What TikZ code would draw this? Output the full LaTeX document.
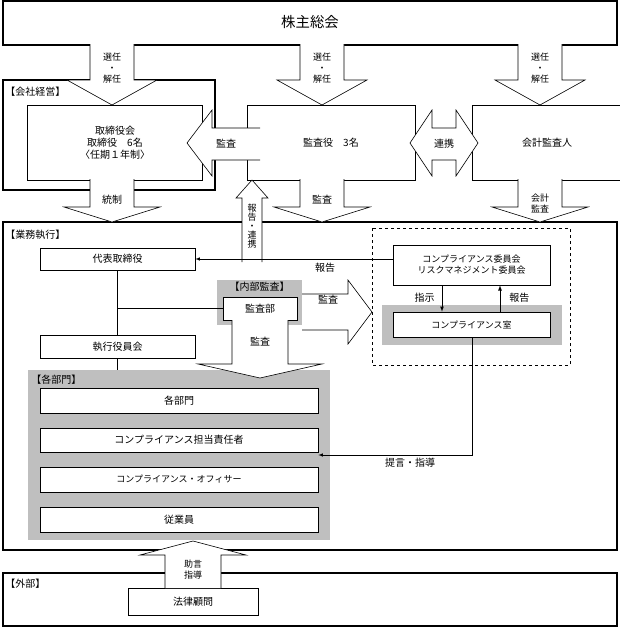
\documentclass[tikz,border=0pt]{standalone}
\usepackage{fontspec}
\setmainfont{Noto Sans CJK JP}
\usepackage{tikz}
\usetikzlibrary{positioning}

\tikzset{
  box/.style={draw, fill=white, inner sep=0pt, font=\normalsize},
  frame/.style={draw, line width=1.3pt},
  grayarea/.style={fill=black!25},
  lbl/.style={font=\normalsize, inner sep=1pt},
  barrow/.style={fill=white, draw}
}
% block arrow pointing down: centre x, top y, tip y, half shaft, half head, head length
\newcommand\darrow[6]{\path[barrow] (#1-#4,#2) -- (#1-#4,#3-#6) -- (#1-#5,#3-#6) -- (#1,#3) -- (#1+#5,#3-#6) -- (#1+#4,#3-#6) -- (#1+#4,#2);}
% block arrow pointing up: centre x, bottom y, tip y, half shaft, half head, head length
\newcommand\uarrow[6]{\path[barrow] (#1-#4,#2) -- (#1-#4,#3+#6) -- (#1-#5,#3+#6) -- (#1,#3) -- (#1+#5,#3+#6) -- (#1+#4,#3+#6) -- (#1+#4,#2);}

\begin{document}
\begin{tikzpicture}[x=1pt,y=-1pt,line width=0.6pt]
\useasboundingbox (0,0) rectangle (619,627);

% frames
\draw[frame] (3,1) rectangle (617,45);
\node[font=\Large] (agm) at (310,22) {株主総会};
\draw[frame] (3,80) rectangle (215,190);
\node[lbl, anchor=west] (mgmt) at (4,92) {【会社経営】};
\draw[frame] (3,222) rectangle (617,550);
\node[lbl, anchor=west] (exec) at (4,235) {【業務執行】};
\draw[frame] (3,573) rectangle (617,626);
\node[lbl, anchor=west] (ext) at (4,584) {【外部】};

% top boxes
\node[box, minimum width=175pt, minimum height=75pt, align=center] (board) at (115,142.5)
  {取締役会\\取締役　6名\\〈任期１年制〉};
\node[box, minimum width=168pt, minimum height=75pt] (auditors) at (331,142.5) {監査役　3名};
\node[box, minimum width=150pt, minimum height=75pt] (acct) at (547,142.5) {会計監査人};

% selection arrows
\foreach \cx in {112,322,540} {
  \darrow{\cx}{44}{105}{22}{45}{25}
  \node[lbl, align=center, font=\small] at (\cx,68) {選任\\・\\解任};
}

% 監査 (left) and 連携 (double)
\path[barrow] (260,128) -- (212,128) -- (212,110) -- (187,143) -- (212,176) -- (212,160) -- (260,160);
\node[lbl] at (226,144) {監査};
\path[barrow] (410,143) -- (432,110) -- (432,128) -- (456,128) -- (456,110) -- (478,143)
  -- (456,176) -- (456,160) -- (432,160) -- (432,176) -- cycle;
\node[lbl] at (444,144) {連携};

% 統制, 監査, 会計監査
\darrow{112}{179}{222}{22}{48}{15}
\node[lbl] at (112,200) {統制};
\darrow{322}{179}{222}{22}{48}{15}
\node[lbl] at (322,200) {監査};
\darrow{540}{179}{222}{22}{48}{15}
\node[lbl, align=center, font=\small] at (540,203) {会計\\監査};

% 報告・連携 (up)
\uarrow{252}{262}{180}{10}{16}{18}
\node[lbl, align=center, font=\small\linespread{0.8}\selectfont] at (252,226) {報\\告\\・\\連\\携};

% business execution
\node[box, minimum width=155pt, minimum height=22pt] (ceo) at (117.5,259) {代表取締役};
\node[box, minimum width=155pt, minimum height=23pt] (officers) at (117.5,346.5) {執行役員会};

% compliance area
\draw[dashed] (372,228) rectangle (570,365);
\node[box, minimum width=157pt, minimum height=40pt, align=center, font=\small] (committee) at (471.5,265)
  {コンプライアンス委員会\\リスクマネジメント委員会};
\fill[grayarea] (382,305) rectangle (562,345);
\node[box, minimum width=157pt, minimum height=25pt, font=\small] (office) at (471.5,324.5) {コンプライアンス室};
\draw[-latex, thick] (committee.south -| 442,0) -- (office.north -| 442,0);
\node[lbl, anchor=east] (instr) at (436,298) {指示};
\draw[-latex, thick] (office.north -| 500,0) -- (committee.south -| 500,0);
\node[lbl, anchor=west] (rep2) at (508,298) {報告};
\draw[-latex] (committee.west |- ceo.east) -- (ceo.east);
\node[lbl] (rep1) at (325,268) {報告};

% internal audit
\fill[grayarea] (217,280) rectangle (302,325);
\node[lbl] (iaLabel) at (259.5,287) {【内部監査】};
\node[box, minimum width=74pt, minimum height=23pt] (auditDept) at (260,308.5) {監査部};

% departments
\fill[grayarea] (28,370) rectangle (330,540);
\node[lbl, anchor=west] (deptLabel) at (30,380) {【各部門】};
\node[box, minimum width=278pt, minimum height=25pt] (depts) at (179,400.5) {各部門};
\node[box, minimum width=278pt, minimum height=24pt] (resp) at (179,440) {コンプライアンス担当責任者};
\node[box, minimum width=278pt, minimum height=25pt, font=\small] (officer) at (179,479.5) {コンプライアンス・オフィサー};
\node[box, minimum width=278pt, minimum height=25pt] (staff) at (179,519.5) {従業員};

% lines
\draw (ceo.south) -- (officers.north);
\draw (officers.south) -- (117.5,370);
\coordinate (junction) at (117.5,308.5);
\draw (junction) -- (auditDept.west);
\coordinate (bend) at (472,455);
\draw[-latex] (office.south -| bend) -- (bend) -- (resp.east |- bend);
\node[lbl] (advice) at (410,463) {提言・指導};

% 監査 from audit dept
\path[barrow] (302,294) -- (348,294) -- (348,280) -- (372,312) -- (348,344) -- (348,330) -- (302,330);
\node[lbl] at (328,300) {監査};
\darrow{260}{320}{378}{28}{62}{14}
\node[lbl] at (260,342) {監査};

% external
\node[box, minimum width=130pt, minimum height=27pt] (lawyer) at (193,601.5) {法律顧問};
\uarrow{193}{588}{541}{28}{53}{14}
\node[lbl, align=center, font=\small] at (193,570) {助言\\指導};
\end{tikzpicture}
\end{document}
